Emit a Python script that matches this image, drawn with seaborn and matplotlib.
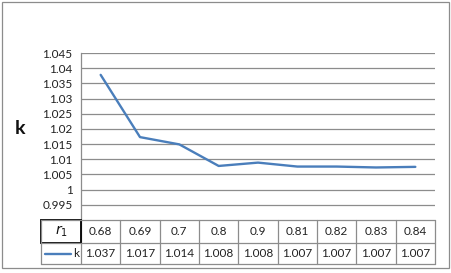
import matplotlib
matplotlib.use("Agg")
import matplotlib.pyplot as plt
import seaborn as sns
import pandas as pd
from matplotlib.transforms import blended_transform_factory
from matplotlib.patches import Rectangle

# ---- data ----
r1_labels = ["0.68", "0.69", "0.7", "0.8", "0.9", "0.81", "0.82", "0.83", "0.84"]
k_line = [1.0378, 1.0173, 1.0149, 1.0078, 1.0089, 1.0076, 1.0076, 1.0073, 1.0075]
k_labels = ["1.037", "1.017", "1.014", "1.008", "1.008", "1.007", "1.007", "1.007", "1.007"]
y_ticks = [0.995, 1.0, 1.005, 1.01, 1.015, 1.02, 1.025, 1.03, 1.035, 1.04, 1.045]
y_tick_labels = ["0.995", "1", "1.005", "1.01", "1.015", "1.02", "1.025", "1.03", "1.035", "1.04", "1.045"]
series_name = "k"
axis_name = "k"

sns.set_theme(style="white")
plt.rcParams["font.family"] = ["Lato", "DejaVu Sans"]
plt.rcParams["mathtext.fontset"] = "dejavusans"

W, H = 452, 273
DPI = 100
fig = plt.figure(figsize=(W / DPI, H / DPI), dpi=DPI)

def fx(px):
    return px / W

def fy(py):
    return 1 - py / H

L, R, T, B = 81, 435, 53, 220
ax = fig.add_axes([fx(L), fy(B), fx(R) - fx(L), (B - T) / H])

df = pd.DataFrame({"pos": range(len(k_line)), "k": k_line})
line_color = "#4A7EBB"
grid_color = "#8C8C8C"
text_color = "#222222"
fs = 8.5
sns.lineplot(data=df, x="pos", y="k", ax=ax, color=line_color, linewidth=1.7)

ax.set_xlim(-0.5, len(k_line) - 0.5)
ax.set_ylim(0.99, 1.045)
ax.set_yticks(y_ticks)
ax.set_yticklabels(y_tick_labels)
ax.set_xticks([])
ax.set_xlabel("")
ax.set_ylabel("")
ax.tick_params(axis="y", length=0, pad=6, labelsize=fs, colors=text_color)
for yt in y_ticks:
    ax.axhline(yt, color=grid_color, linewidth=0.9, zorder=0)
for s in ["top", "right", "bottom"]:
    ax.spines[s].set_visible(False)
ax.spines["left"].set_color(grid_color)
ax.spines["left"].set_linewidth(0.9)

# y label
fig.text(fx(20), fy(128), axis_name, fontsize=14, fontweight="bold",
         ha="center", va="center", color="#111111")

# ---- data table ----
tbl_left = 41
row1_bot = 243
row2_bot = 264
lw = 0.9
for yy in [B, row1_bot, row2_bot]:
    fig.add_artist(plt.Line2D([fx(tbl_left), fx(R)], [fy(yy), fy(yy)],
                              color=grid_color, linewidth=lw))
tr = blended_transform_factory(ax.transData, fig.transFigure)
for i in range(len(k_line) + 1):
    xb = i - 0.5
    ax.add_line(plt.Line2D([xb, xb], [fy(B), fy(row2_bot)], transform=tr,
                           color=grid_color, linewidth=lw, clip_on=False))
fig.add_artist(plt.Line2D([fx(tbl_left), fx(tbl_left)], [fy(B), fy(row2_bot)],
                          color=grid_color, linewidth=lw))
fig.add_artist(Rectangle((fx(tbl_left), fy(row1_bot)), fx(L) - fx(tbl_left),
                         (row1_bot - B) / H, fill=False, edgecolor="black",
                         linewidth=1.3, transform=fig.transFigure))

ry1 = fy((B + row1_bot) / 2)
ry2 = fy((row1_bot + row2_bot) / 2)
for i, (a, b) in enumerate(zip(r1_labels, k_labels)):
    ax.text(i, ry1, a, transform=tr, ha="center", va="center", fontsize=fs,
            color=text_color, clip_on=False)
    ax.text(i, ry2, b, transform=tr, ha="center", va="center", fontsize=fs,
            color=text_color, clip_on=False)

fig.text(fx(61), ry1, r"$r_1$", ha="center", va="center", fontsize=10, color="#111111")
fig.add_artist(plt.Line2D([fx(45), fx(71)], [ry2, ry2], color=line_color, linewidth=1.7))
fig.text(fx(73), ry2, series_name, ha="left", va="center", fontsize=fs, color=text_color)

fig.add_artist(Rectangle((fx(2), fy(268)), fx(449) - fx(2), (268 - 2) / H, fill=False,
                         edgecolor="#8C8C8C", linewidth=0.9, transform=fig.transFigure))

fig.savefig("out.png", dpi=DPI)
